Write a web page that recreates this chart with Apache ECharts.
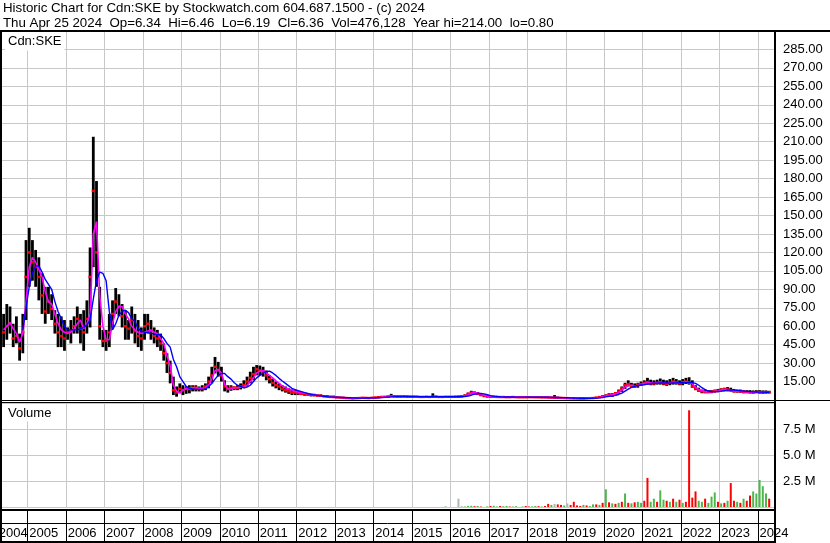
<!DOCTYPE html>
<html><head><meta charset="utf-8">
<script src="https://cdn.jsdelivr.net/npm/echarts@6.0.0/dist/echarts.min.js"></script>
<style>html,body{margin:0;padding:0;background:#fff}#c{width:830px;height:543px}</style>
</head><body><div id="c"></div>
<script>
// ---------- DATA (one value per month, May 2004 - Apr 2024) ----------
const yearLabels = ['2004','2005','2006','2007','2008','2009','2010','2011','2012','2013','2014','2015','2016','2017','2018','2019','2020','2021','2022','2023','2024'];
const firstMonth = 5; // data starts May 2004

const priceHi = [
 70,78,76,62,68,54,70,130,
 140,130,122,116,103,92,92,86,73,70,68,65,
 59,65,68,76,70,73,81,124,214,178,92,57,
 57,70,81,91,86,78,73,65,76,70,65,59,
 70,70,65,59,57,54,46,38,32,19,11,13.5,
 12,11,12,12,12,11,12,13.5,19,27,35,31,
 27,16,12,12,11,12,13.5,16,19,23,27,28.4,
 28,27,24,20,17.5,15,13.5,12,11,9.5,8.6,8,
 7,6.5,6,5.5,5,5,4.5,4.5,4,4,3.5,3.5,
 2.8,2.6,2.5,2.4,2.2,2.0,2.2,2.2,2.4,2.3,2.2,2.4,
 2.6,2.8,3.0,3.2,3.5,5.0,4.0,3.6,3.5,3.6,3.5,3.4,
 3.4,3.3,3.2,3.2,3.3,3.2,5.4,3.5,3.2,3.2,3.3,3.3,
 3.3,3.4,3.5,3.8,4.5,6.0,7.5,7.0,6.5,5.5,4.2,3.6,
 3.4,3.4,3.3,3.2,3.2,3.1,3.0,3.2,3.0,2.9,2.9,2.9,
 3.0,3.0,2.9,2.9,2.8,2.8,2.8,2.7,4.0,2.6,2.5,2.4,
 2.3,2.2,2.1,2.0,2.0,2.0,2.1,2.2,2.3,2.6,3.2,3.8,
 4.5,5.5,5.5,6.5,8.5,11,14,16,14,13.5,14,15,
 16,18,16.5,16,16.5,17.5,16.5,16,17,18,17,16,
 17,18,18.5,16,12,10,8.5,8.5,8,8,8.5,9,
 9.5,10,10.5,10,9,8.5,8.5,8,8,8,7.8,8,
 8,7.8,7.8,7.5
];
const priceLo = [
 43,49,54,43,46,32,38,65,
 92,97,92,81,70,62,70,65,54,43,43,40,
 49,46,54,54,46,40,54,59,108,92,49,43,
 40,43,59,70,68,59,49,49,54,46,43,40,
 49,54,49,46,43,40,32,22,13.5,4,2.7,5.4,
 4,5,5.4,7,7,7,7,8,9.5,13.5,21.6,19,
 15,7,6,7.5,8,8,8.6,9.5,11,13.5,16,20,
 20,19,16,13.5,11,9.5,8,7,6,5,4,4,
 4,4,3.5,3.5,3,3,3,2.5,2.5,2.5,2,2,
 1.5,1.4,1.2,1.0,1.0,0.8,1.0,1.0,1.2,1.2,1.0,1.2,
 1.4,1.6,1.8,2.0,2.2,2.4,2.4,2.2,2.2,2.2,2.0,2.0,
 2.0,2.0,2.0,2.0,2.0,2.0,2.2,2.2,2.0,2.0,2.1,2.0,
 2.0,2.1,2.2,2.4,2.6,3.5,4.5,4.5,4.0,3.2,2.6,2.2,
 2.0,2.0,2.0,1.9,1.9,1.8,1.8,1.8,1.8,1.7,1.7,1.7,
 1.8,1.8,1.7,1.7,1.6,1.6,1.5,1.4,1.4,1.3,1.2,1.1,
 1.0,0.9,0.9,0.8,0.8,0.8,0.9,1.0,1.0,1.2,1.6,2.2,
 2.6,3.0,2.5,3.8,5.0,6.5,9.0,11,10,10,10,11.5,
 12,12.5,12,12,12.5,12.5,12,11.5,12,12.5,12.5,12,
 12,13,12.5,10,8,6.5,5.5,5.5,5.5,5.5,6,6.3,
 6.8,7,7,6.8,6.2,6,5.8,5.5,5.5,5.3,5.2,5.5,
 5.2,5.0,5.2,5.3
];
const priceCl = [
 55,60,62,50,52,42,55,100,
 120,112,108,100,85,72,80,74,62,55,52,50,
 55,56,60,66,58,55,66,100,170,120,60,48,
 48,55,70,80,76,68,60,58,65,56,52,50,
 60,62,56,52,50,46,38,30,22,8,6,9,
 8,9,9,10,10,9,9,11,15,20,27,24,
 20,11,9,10,10,10,11,12,15,18,21,25,
 24,23,20,17,14,12,11,9,8,7,6,6,
 5.5,5,4.5,4.5,4,4,3.5,3.5,3,3,2.5,2.5,
 2.2,2.0,1.8,1.6,1.5,1.3,1.5,1.6,1.8,1.7,1.6,1.8,
 2.0,2.3,2.5,2.6,2.8,3.2,3.0,2.8,2.8,2.9,2.7,2.6,
 2.6,2.6,2.5,2.5,2.6,2.5,2.8,2.7,2.5,2.5,2.6,2.6,
 2.6,2.7,2.8,3.0,3.5,5.0,6.0,5.5,5.0,4.0,3.2,2.8,
 2.6,2.6,2.5,2.4,2.4,2.3,2.3,2.4,2.3,2.2,2.2,2.2,
 2.3,2.3,2.2,2.2,2.1,2.1,2.0,1.9,1.9,1.8,1.7,1.6,
 1.5,1.4,1.3,1.3,1.2,1.2,1.4,1.5,1.6,1.9,2.4,3.0,
 3.5,4.2,4.0,5.5,7.0,9.5,12,13,11.5,11,12.5,13,
 14,14.5,13.5,13.5,14,14.5,13.5,13,14,15,14,13.5,
 14.5,15,14,11,9,7.5,7,6.5,6.5,6.8,7.2,7.5,
 8.5,8.8,8.5,8,7,7,6.8,6.5,6.5,6.3,6.2,6.5,
 6.4,6.2,6.3,6.36
];
const maShort = [ // magenta line
 57,60,63,58,54,47,54,80,
 108,116,112,106,100,88,80,78,70,62,57,55,
 54,55,58,62,65,58,62,70,135,145,85,60,
 49,49,62,72,76,76,70,66,60,57,55,54,
 55,56,57,55,54,50,46,36,28,12,7,6,
 8,9.5,9.5,10,10,9.5,9.5,10,12,17,24,25,
 22,13,9,9,10,10,10.5,11,12,15,18,22,
 23.5,24,22,20,18,15.5,13.5,11.5,10,9,8,7,
 6.5,6,5.5,5,4.9,4.3,3.8,3.3,2.8,2.4,2.2,2.0,
 2.0,2.0,1.9,1.8,1.6,1.5,1.4,1.5,1.6,1.7,1.7,1.7,
 1.8,2.0,2.3,2.5,2.7,3.0,3.1,3.0,2.9,2.9,2.8,2.7,
 2.7,2.6,2.6,2.5,2.5,2.5,2.6,2.7,2.6,2.5,2.5,2.6,
 2.6,2.6,2.7,2.8,3.2,4.2,5.6,6.0,5.6,4.8,3.8,3.2,
 2.8,2.7,2.6,2.5,2.4,2.4,2.3,2.3,2.3,2.3,2.2,2.2,
 2.2,2.3,2.3,2.2,2.2,2.1,2.1,2.0,1.9,1.9,1.8,1.7,
 1.6,1.5,1.4,1.3,1.3,1.2,1.3,1.4,1.5,1.7,2.1,2.7,
 3.2,3.8,4.2,4.8,6.0,8.0,10.5,12,12,11.5,11.8,12.5,
 13.3,14,14,13.6,13.8,14,14,13.4,13.6,14.3,14.4,14,
 14.2,14.5,14.5,13,10.5,8.5,7.5,6.8,6.7,6.7,7,7.3,
 8,8.5,8.6,8.3,7.6,7.2,7,6.8,6.6,6.5,6.4,6.4,
 6.4,6.3,6.3,6.3
];
const maLong = [ // blue line
 null,null,null,null,null,null,57,75,
 92,103,109,109,104,98,94,90,80,72,66,60,
 57,57,57,57,58,59,61,65,82,97,104,103,
 97,72,57,62,69,72,73,71,66,64,58,56,
 55,55,54,54,53,53,50,46,43,33,27,19,
 15,11,9.5,9,8.6,8.6,8.6,9,11,13.5,17,20,
 21.6,21.6,19,17,14,12,11,10,10.5,12,15,18,
 20,22,23,23.5,22,20,17.6,15.5,13.5,11.5,9.5,8.5,
 7.5,6.8,6,5.3,4.6,4.2,3.8,3.4,3,2.7,2.5,2.3,
 2.2,2.1,2.0,1.9,1.8,1.7,1.6,1.5,1.5,1.6,1.6,1.7,
 1.7,1.8,1.9,2.1,2.3,2.5,2.7,2.8,2.9,2.9,2.9,2.9,
 2.8,2.8,2.7,2.7,2.6,2.6,2.6,2.6,2.6,2.6,2.6,2.6,
 2.6,2.6,2.6,2.7,2.8,3.2,3.9,4.8,5.3,5.4,5.0,4.3,
 3.6,3.1,2.8,2.6,2.5,2.5,2.4,2.4,2.3,2.3,2.3,2.3,
 2.2,2.2,2.2,2.2,2.2,2.2,2.2,2.1,2.0,2.0,1.9,1.9,
 1.8,1.7,1.6,1.5,1.4,1.4,1.3,1.3,1.4,1.5,1.7,2.0,
 2.5,2.9,3.3,3.8,4.5,5.6,7.2,8.8,10.2,11.2,11.8,12.2,
 12.5,13,13.4,13.6,13.7,13.8,13.9,13.8,13.7,13.8,13.9,14,
 14,14.1,14.2,14.1,13.5,12,10,8.5,7.3,6.9,6.8,6.9,
 7.2,7.6,8,8.2,8.1,7.8,7.5,7.2,7,6.8,6.6,6.5,
 6.4,6.4,6.3,6.3
];
const volumeM = [ // millions of shares
 0,0,0,0,0,0,0,0,
 0,0,0,0,0,0,0,0,0,0,0,0,
 0,0,0,0,0,0,0,0,0,0,0,0,
 0,0,0,0,0,0,0,0,0,0,0,0,
 0,0,0,0,0,0,0,0,0,0,0,0,
 0,0,0,0,0,0,0,0,0,0,0,0,
 0,0,0,0,0,0,0,0,0,0,0,0,
 0,0,0,0,0,0,0,0,0,0,0,0,
 0,0,0,0,0,0,0,0,0,0,0,0,
 0,0,0,0,0,0,0,0,0,0,0,0,
 0,0,0,0,0,0,0,0,0,0,0,0,
 0,0,0,0,0,0,0,0,0,0,0.05,0,
 0,0,0.8,0.05,0.05,0.1,0.12,0.08,0.1,0.05,0,0.06,
 0.1,0.12,0.05,0.1,0.08,0.1,0.05,0.05,0.08,0,0.05,0.1,
 0.05,0.06,0.1,0.08,0.05,0.1,0.3,0.2,0.3,0.25,0.2,0.15,
 0.35,0.2,0.5,0.15,0.1,0.2,0.15,0.1,0.25,0.25,0.2,0.4,
 1.7,0.45,0.35,0.3,0.4,0.5,1.3,0.4,0.35,0.45,0.5,0.4,
 0.6,2.8,0.5,0.8,0.5,1.6,0.7,0.6,0.5,0.8,0.5,0.7,
 0.4,0.5,9.3,0.9,1.5,0.6,0.5,0.8,0.4,1.0,1.4,0.5,
 0.35,0.4,0.6,2.3,0.6,0.5,0.4,0.8,0.6,1.1,1.5,1.3,
 2.6,2.0,1.3,0.8
];
// g = up (green), r = down (red), n = unchanged (grey)
const volumeDir = (
 'gggggggg' + 'gggggggggggg'.repeat(11) +
 'ggnggggrgrgg' + 'rggrggrggggr' + 'rggrgrrgnrrg' + 'nrrrrgrggrgr' +
 'grgrgrgrgrgg' + 'rrggrggrgrgr' + 'grrrrggrgggr' + 'grgrrgrgrrgg' + 'gggr'
).split('');
const priceTicks = {min: 0, max: 300, step: 15};
const volumeTicks = {min: 0, max: 10, step: 2.5};

// ---------- CATEGORIES (months) ----------
const months = [];
(function () {
  let y = 0, mo = firstMonth;
  for (let i = 0; i < priceHi.length + 1; i++) { // +1 : current, still empty month
    months.push(yearLabels[y] + '-' + String(mo).padStart(2, '0'));
    mo++; if (mo > 12) { mo = 1; y++; }
  }
})();
const isJanuary = (i) => months[i].slice(5) === '01';
const FIRST_LABEL_INDEX = 3; // the partial first year is labelled in the middle of its visible part

const FONT = '"Liberation Sans", Arial, sans-serif';
const GRID_C = '#c8c8c8';
const volColors = {g: '#4cb84c', r: '#ff0000', n: '#b4b4b4'};

function xAxisFor(gi, mode) {
  // mode: 'plain' (grey year lines), 'labels' (black year lines + January labels), 'first' (label of the partial first year)
  const labelCommon = {show: true, inside: true, margin: 1, fontSize: 13, fontFamily: FONT, color: '#000',
    formatter: (v) => v.slice(0, 4)};
  return {
    type: 'category', gridIndex: gi, data: months, boundaryGap: true, position: 'bottom',
    axisLine: {show: false}, axisTick: {show: false},
    axisLabel: mode === 'plain' ? {show: false}
      : mode === 'labels' ? Object.assign({}, labelCommon, {align: 'left', interval: (i) => isJanuary(i)})
      : Object.assign({}, labelCommon, {align: 'center', interval: (i) => i === FIRST_LABEL_INDEX}),
    splitLine: {show: mode !== 'first', interval: (i) => isJanuary(i),
      lineStyle: {color: mode === 'labels' ? '#000' : GRID_C, width: 1}}
  };
}

const chart = echarts.init(document.getElementById('c'), null, {renderer: 'canvas'});
const L = 2, W = 772;
const gridBase = {left: L, width: W, containLabel: false, outerBoundsMode: 'none'};
chart.setOption({
  animation: false,
  textStyle: {fontFamily: FONT},
  grid: [
    Object.assign({}, gridBase, {top: 31, height: 369}),
    Object.assign({}, gridBase, {top: 403, height: 104}),
    Object.assign({}, gridBase, {top: 510, height: 31})
  ],
  xAxis: [xAxisFor(0, 'plain'), xAxisFor(1, 'plain'), xAxisFor(2, 'labels'), xAxisFor(2, 'first')],
  yAxis: [
    {type: 'value', gridIndex: 0, position: 'right', min: priceTicks.min, max: priceTicks.max, interval: priceTicks.step,
     axisLine: {show: false}, axisTick: {show: false},
     splitLine: {show: true, lineStyle: {color: GRID_C, width: 1}},
     axisLabel: {margin: 9, fontSize: 13, fontFamily: FONT, color: '#000',
       formatter: (v) => (v <= priceTicks.min || v >= priceTicks.max) ? '' : v.toFixed(2)}},
    {type: 'value', gridIndex: 1, position: 'right', min: volumeTicks.min, max: volumeTicks.max, interval: volumeTicks.step,
     axisLine: {show: false}, axisTick: {show: false},
     splitLine: {show: true, lineStyle: {color: GRID_C, width: 1}},
     axisLabel: {margin: 9, fontSize: 13, fontFamily: FONT, color: '#000',
       formatter: (v) => (v <= volumeTicks.min || v >= volumeTicks.max) ? '' : v.toFixed(1) + ' M'}},
    {type: 'value', gridIndex: 2, show: false, min: 0, max: 1}
  ],
  series: [
    {
      type: 'custom', xAxisIndex: 0, yAxisIndex: 0, z: 2, clip: true,
      data: priceHi.map((h, i) => [i, h, priceLo[i], priceCl[i]]),
      encode: {x: 0, y: [1, 2, 3]},
      renderItem: function (params, api) {
        const i = api.value(0);
        const pHi = api.coord([i, api.value(1)]);
        const pLo = api.coord([i, api.value(2)]);
        const pCl = api.coord([i, api.value(3)]);
        return {type: 'group', children: [
          {type: 'rect', shape: {x: pHi[0] - 1.4, y: pHi[1], width: 2.8, height: Math.max(1.5, pLo[1] - pHi[1])},
           style: {fill: '#000'}},
          {type: 'rect', shape: {x: pCl[0] - 1.6, y: pCl[1] - 1.2, width: 3.2, height: 2.4},
           style: {fill: '#ff0000'}}
        ]};
      }
    },
    {type: 'line', xAxisIndex: 0, yAxisIndex: 0, data: maShort, symbol: 'none', z: 3,
     lineStyle: {color: '#ff00ff', width: 1.6}, connectNulls: false},
    {type: 'line', xAxisIndex: 0, yAxisIndex: 0, data: maLong, symbol: 'none', z: 4,
     lineStyle: {color: '#0000ff', width: 1.4}, connectNulls: false},
    {type: 'bar', xAxisIndex: 1, yAxisIndex: 1, barWidth: 2, z: 2,
     data: volumeM.map((v, i) => ({value: v, itemStyle: {color: volColors[volumeDir[i]]}}))}
  ],
  graphic: [
    {type: 'text', x: 3, y: 8, z: 100, style: {text: 'Historic Chart for Cdn:SKE by Stockwatch.com 604.687.1500 - (c) 2024',
      fontSize: 13.3, fontFamily: FONT, fill: '#000', verticalAlign: 'middle'}},
    {type: 'text', x: 3, y: 23, z: 100, style: {text: 'Thu Apr 25 2024  Op=6.34  Hi=6.46  Lo=6.19  Cl=6.36  Vol=476,128  Year hi=214.00  lo=0.80',
      fontSize: 13.3, fontFamily: FONT, fill: '#000', verticalAlign: 'middle'}},
    {type: 'text', x: 5, y: 41, z: 100, style: {text: 'Cdn:SKE', fontSize: 13, fontFamily: FONT, fill: '#000',
      verticalAlign: 'middle', backgroundColor: '#fff', padding: [3, 3, 3, 3]}},
    {type: 'text', x: 5, y: 413, z: 100, style: {text: 'Volume', fontSize: 13, fontFamily: FONT, fill: '#000',
      verticalAlign: 'middle', backgroundColor: '#fff', padding: [2, 3, 2, 3]}},
    // frame lines
    {type: 'line', z: 100, shape: {x1: 0, y1: 31, x2: 830, y2: 31}, style: {stroke: '#000', lineWidth: 2}},
    {type: 'line', z: 100, shape: {x1: 1, y1: 31, x2: 1, y2: 543}, style: {stroke: '#000', lineWidth: 2}},
    {type: 'line', z: 100, shape: {x1: 775, y1: 31, x2: 775, y2: 543}, style: {stroke: '#000', lineWidth: 2}},
    {type: 'line', z: 100, shape: {x1: 0, y1: 400.5, x2: 830, y2: 400.5}, style: {stroke: '#000', lineWidth: 1}},
    {type: 'line', z: 100, shape: {x1: 0, y1: 402.5, x2: 775, y2: 402.5}, style: {stroke: '#000', lineWidth: 1}},
    {type: 'line', z: 100, shape: {x1: 0, y1: 510, x2: 775, y2: 510}, style: {stroke: '#000', lineWidth: 2}},
    {type: 'line', z: 100, shape: {x1: 0, y1: 523.5, x2: 775, y2: 523.5}, style: {stroke: '#000', lineWidth: 1}},
    {type: 'line', z: 100, shape: {x1: 0, y1: 542, x2: 775, y2: 542}, style: {stroke: '#000', lineWidth: 2}}
  ]
});
</script>
</body></html>
